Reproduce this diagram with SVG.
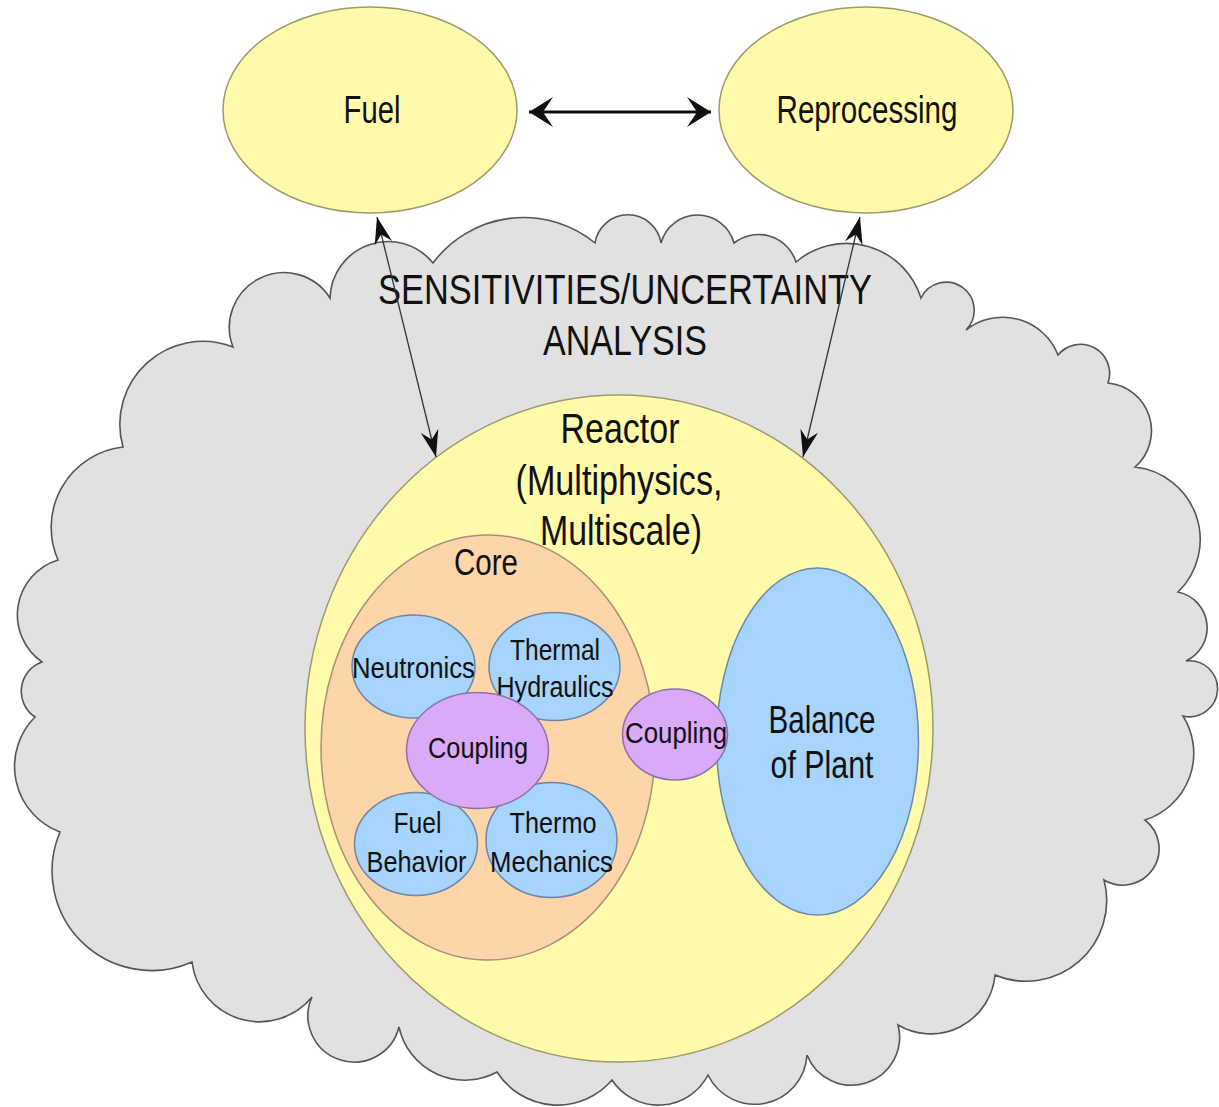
<svg xmlns="http://www.w3.org/2000/svg" width="1219" height="1107" viewBox="0 0 1219 1107">
<style>
text{font-family:"Liberation Sans",Arial,sans-serif;fill:#111;text-anchor:middle}
.yel{fill:#fffbaa;stroke:#9c9a6e;stroke-width:1.5}
.core{fill:#fdd5a8;stroke:#a8907a;stroke-width:1.5}
.blue{fill:#a6d4fc;stroke:#6d88a8;stroke-width:1.5}
.pur{fill:#d8aaf8;stroke:#8c72a8;stroke-width:1.5}
.big{font-size:38px}
.inner{font-size:30px}
.conn{stroke:#333;stroke-width:1.3;fill:none}
</style>
<defs>
<marker id="ahBig" markerUnits="userSpaceOnUse" viewBox="-26 -16 28 32" markerWidth="28" markerHeight="32" refX="0" refY="0" orient="auto-start-reverse">
<path d="M0,0 L-24,-15 L-14,0 L-24,15 Z" fill="#111"/>
</marker>
<marker id="ahSmall" markerUnits="userSpaceOnUse" viewBox="-28 -10 30 20" markerWidth="30" markerHeight="20" refX="0" refY="0" orient="auto-start-reverse">
<path d="M0,0 L-27,-9 L-18,0 L-27,9 Z" fill="#111"/>
</marker>
</defs>
<rect width="1219" height="1107" fill="#fff"/>
<g id="cloud">
<path d="M330,298 A58,58 0 0 1 433,263 A113,113 0 0 1 595,243 A33.4,33.4 0 0 1 661,243 A37.8,37.8 0 0 1 734,243 A39.4,39.4 0 0 1 796,262 A78,78 0 0 1 921,298 A28,28 0 1 1 966,330 A59.3,59.3 0 0 1 1058,355 A29.1,29.1 0 0 1 1108,383 A48,48 0 0 1 1135,467 A73,73 0 0 1 1178,592 A36.6,36.6 0 0 1 1186,661 A28,28 0 1 1 1183,716 A70,70 0 0 1 1145,820 A36.4,36.4 0 0 1 1104,880 A80.6,80.6 0 0 1 995,975 A64.6,64.6 0 0 1 898,1025 A48,48 0 0 1 807,1055 A52.2,52.2 0 0 1 708,1075 A55.7,55.7 0 0 1 612,1080 A71.8,71.8 0 0 1 497,1072 A67.3,67.3 0 0 1 399,1027 A46.2,46.2 0 1 1 312,997 A68,68 0 0 1 192,962 A99.6,99.6 0 0 1 60,832 A70,70 0 0 1 35,717 A31,31 0 0 1 42,662 A57.4,57.4 0 0 1 58,560 A81,81 0 0 1 123,447 A83,83 0 0 1 233,347 A54.6,54.6 0 0 1 330,298 Z" fill="#e1e1e1" stroke="#555" stroke-width="1.6" stroke-linejoin="miter"/>
<text x="625" y="304" font-size="42" textLength="494" lengthAdjust="spacingAndGlyphs">SENSITIVITIES/UNCERTAINTY</text>
<text x="625" y="355" font-size="42" textLength="164" lengthAdjust="spacingAndGlyphs">ANALYSIS</text>
</g>
<g id="fuel">
<ellipse class="yel" cx="370" cy="110" rx="147" ry="103"/>
<text class="big" x="372" y="123" textLength="57" lengthAdjust="spacingAndGlyphs">Fuel</text>
</g>
<g id="reprocessing">
<ellipse class="yel" cx="866" cy="110" rx="147" ry="103"/>
<text class="big" x="867" y="123" textLength="181" lengthAdjust="spacingAndGlyphs">Reprocessing</text>
</g>
<g id="reactor">
<ellipse class="yel" cx="619" cy="728.5" rx="314" ry="333.5"/>
<text x="620" y="443" font-size="42" textLength="119" lengthAdjust="spacingAndGlyphs">Reactor</text>
<text x="619" y="495" font-size="42" textLength="207" lengthAdjust="spacingAndGlyphs">(Multiphysics,</text>
<text x="621" y="545" font-size="42" textLength="162" lengthAdjust="spacingAndGlyphs">Multiscale)</text>
</g>
<g id="core">
<ellipse class="core" cx="488" cy="747.5" rx="167" ry="212.5"/>
<text x="486" y="575" font-size="37" textLength="64" lengthAdjust="spacingAndGlyphs">Core</text>
</g>
<g id="neutronics">
<ellipse class="blue" cx="413.5" cy="666.5" rx="61.5" ry="51.5"/>
<text class="inner" x="413.5" y="678" textLength="123" lengthAdjust="spacingAndGlyphs">Neutronics</text>
</g>
<g id="thermal-hydraulics">
<ellipse class="blue" cx="554.5" cy="666.5" rx="65.5" ry="54"/>
<text class="inner" x="555" y="660" textLength="90" lengthAdjust="spacingAndGlyphs">Thermal</text>
<text class="inner" x="555" y="697" textLength="117" lengthAdjust="spacingAndGlyphs">Hydraulics</text>
</g>
<g id="fuel-behavior">
<ellipse class="blue" cx="416" cy="844" rx="61.5" ry="51.5"/>
<text class="inner" x="417.5" y="833" textLength="48" lengthAdjust="spacingAndGlyphs">Fuel</text>
<text class="inner" x="416.5" y="872" textLength="100" lengthAdjust="spacingAndGlyphs">Behavior</text>
</g>
<g id="thermo-mechanics">
<ellipse class="blue" cx="551.5" cy="840" rx="65.5" ry="57.5"/>
<text class="inner" x="553" y="833" textLength="87" lengthAdjust="spacingAndGlyphs">Thermo</text>
<text class="inner" x="551.5" y="872" textLength="123" lengthAdjust="spacingAndGlyphs">Mechanics</text>
</g>
<g id="coupling-core">
<ellipse class="pur" cx="477.5" cy="750.5" rx="71" ry="58"/>
<text class="inner" x="478" y="758" textLength="100" lengthAdjust="spacingAndGlyphs">Coupling</text>
</g>
<g id="balance-of-plant">
<ellipse class="blue" cx="817.5" cy="741.5" rx="101" ry="173.5"/>
<text x="822" y="733" font-size="38" textLength="107" lengthAdjust="spacingAndGlyphs">Balance</text>
<text x="822" y="778" font-size="38" textLength="103" lengthAdjust="spacingAndGlyphs">of Plant</text>
</g>
<g id="coupling-plant">
<ellipse class="pur" cx="675" cy="734.5" rx="52.5" ry="45.5"/>
<text class="inner" x="676" y="743" textLength="102" lengthAdjust="spacingAndGlyphs">Coupling</text>
</g>
<g id="connectors">
<line x1="529" y1="112" x2="711" y2="112" stroke="#111" stroke-width="3" marker-start="url(#ahBig)" marker-end="url(#ahBig)"/>
<line class="conn" x1="377" y1="217" x2="436" y2="457" marker-start="url(#ahSmall)" marker-end="url(#ahSmall)"/>
<line class="conn" x1="860" y1="217" x2="803" y2="457" marker-start="url(#ahSmall)" marker-end="url(#ahSmall)"/>
</g>
</svg>
